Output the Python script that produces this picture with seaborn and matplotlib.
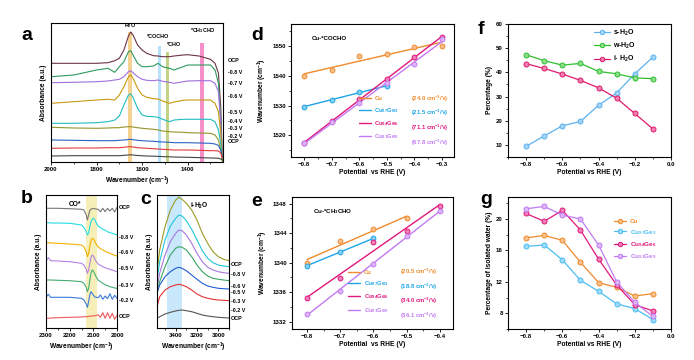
import numpy as np
import matplotlib
matplotlib.use('Agg')
import matplotlib.pyplot as plt
import matplotlib.colors as mcolors
from matplotlib.ticker import MultipleLocator, AutoMinorLocator
from matplotlib.lines import Line2D
import seaborn as sns

sns.set_theme(style='ticks')
plt.rcParams['font.family'] = ['Liberation Sans', 'DejaVu Sans']
plt.rcParams.update({
    'font.weight': 'bold', 'axes.labelweight': 'bold', 'mathtext.default': 'regular',
    'axes.linewidth': 0.8, 'axes.edgecolor': 'black', 'xtick.color': 'black',
    'ytick.color': 'black', 'axes.labelcolor': 'black', 'text.color': 'black',
})

# ---------------- panel a : operando spectra 2000-1250 cm-1 ----------------
W_A = [2000, 1900, 1800, 1750, 1720, 1700, 1680, 1660, 1650, 1640, 1620, 1600, 1580,
       1550, 1530, 1510, 1480, 1460, 1420, 1400, 1350, 1300, 1280, 1265, 1255, 1248]
A_OCP2 = [98.7, 98.7, 98.7, 99.3, 101.3, 103.7, 112, 126, 130, 127, 117, 112, 108.7,
          106.3, 106, 105.3, 105.3, 106, 107, 107.3, 106, 102.7, 98.7, 88.7, 55.3, 2]
A_m08 = [85.3, 87, 92, 93.7, 89.7, 95.3, 100.3, 110.3, 111.3, 107, 98.7, 95.3, 95.3,
         96, 98.7, 95.3, 93.7, 92, 95.3, 97, 97, 97, 92, 78.7, 42, 2]
A_m07 = [79.3, 79.7, 80.3, 81, 82, 82.7, 85.3, 90.3, 91.3, 89.3, 85.3, 82.7, 81.7,
         81.3, 82, 80.7, 79.7, 78.7, 80.3, 81, 81.3, 81.3, 78.7, 70.3, 38.7, 2]
A_m06 = [58.7, 60.3, 62, 62.7, 62, 67, 75.3, 85.3, 87, 83.7, 73.7, 67, 64.7,
         63.3, 63, 61, 58.7, 60, 61.7, 62, 62, 62, 58.7, 50.3, 28.7, 2]
A_m05 = [38.7, 38.7, 39.3, 40.3, 42, 46, 57, 67, 68, 64.7, 53.7, 47, 45.7,
         45.3, 44.7, 42.7, 40.3, 42, 42.7, 42.7, 42.7, 42.7, 40.3, 32, 18.7, 2]
A_m04 = [34.7, 34, 33.7, 34, 34.3, 34.3, 35, 35.3, 35.3, 35, 34.3, 33.7, 33.3,
         32.7, 32, 31, 30.3, 30, 29.7, 29.3, 29, 28.7, 27, 22, 12, 0.3]
A_m03 = [22, 21.7, 21.3, 21.3, 21.3, 21.7, 22, 22.5, 22.7, 22.3, 21.7, 21.3, 21,
         20.7, 20.3, 20, 19.7, 19.3, 19.3, 19.3, 19, 18.7, 18, 16.5, 12, 5]
A_m02 = [13.7, 14, 14, 14.3, 14.3, 14.3, 14.7, 15.3, 15.3, 15, 14.3, 14, 13.7,
         13.3, 13, 12.7, 12.3, 12, 12, 12, 11.7, 11.3, 11.3, 11, 9, 4]
A_OCP1 = [6, 6.3, 6.3, 6.3, 6.3, 6.3, 6.7, 7, 7.2, 7, 6.5, 6.2, 6,
          5.8, 5.6, 5.4, 5.2, 5, 4.8, 4.7, 4.4, 4, 3.9, 3.7, 3, 2]
A_LABELS = ['OCP', '-0.8 V', '-0.7 V', '-0.6 V', '-0.5 V', '-0.4 V', '-0.3 V', '-0.2 V', 'OCP']
A_COLORS = ['#6a3346', '#2e9a5e', '#a070de', '#c9980c', '#1fbcbf', '#95942a',
            '#2a62c4', '#e23b3b', '#454545']
A_LABEL_Y = [101, 89.7, 78.7, 66, 49.3, 40.3, 33, 25.3, 20.3]

# ---------------- panel b : CO* region ----------------
W_B = [2300, 2290, 2280, 2250, 2200, 2150, 2140, 2130, 2125, 2120, 2115, 2110, 2105,
       2100, 2095, 2090, 2080, 2070, 2060, 2050, 2040, 2030, 2020, 2010, 2000]
B_OCP2 = [119.7, 119.7, 119.7, 119.7, 119.3, 118.7, 118, 113, 108, 113, 117.3, 118.7, 119.3,
          119.7, 119.3, 119, 118.7, 116.3, 119.7, 116.3, 119.7, 117, 119.7, 116, 120.7]
B_m08 = [105.3, 105.3, 105, 105, 104.7, 103, 100.7, 96.3, 93, 95.3, 101.3, 106.3, 108.7,
         109.7, 108.7, 106.3, 102, 100.3, 98.7, 97.7, 96.3, 95.3, 94.7, 94, 93]
B_m06 = [85.3, 85.3, 85, 84.7, 84, 83, 81.3, 76.3, 71.3, 74.7, 81.3, 87.3, 89.7,
         89, 87.3, 84.7, 81.3, 79.3, 78, 76.7, 75.7, 74.7, 73.7, 72.7, 72]
B_m05 = [67.3, 70.3, 67.3, 67, 66.3, 64.7, 63, 58.7, 54.7, 58, 64, 70.7, 73,
         72, 69.7, 67.3, 64, 62.7, 61.3, 60.3, 59.3, 58.7, 58, 57, 56.3]
B_m03 = [48, 48, 48, 47.7, 47.3, 46.3, 44.7, 40.7, 36.3, 39.7, 47.3, 54.7, 58,
         57, 54.7, 52, 48, 46.3, 44.7, 43.3, 42.3, 41.3, 40.7, 40, 39.7]
B_m02 = [30.7, 33.7, 30.7, 30.7, 30.7, 29.7, 28, 24, 20.7, 26.3, 33, 36.3, 34.7,
         33, 31.3, 30.7, 30.3, 33, 28.7, 32, 29.3, 34.3, 28.7, 32.7, 29.7]
B_OCP1 = [9.7, 9.7, 10, 10.3, 10.7, 11, 11.3, 11.3, 11.3, 11.7, 11.7, 12, 12,
          12, 12.3, 12.3, 13.3, 10.7, 15.3, 9.7, 15.3, 9.7, 14.7, 8.7, 12.7]
B_LABELS = ['OCP', '-0.8 V', '-0.6 V', '-0.5 V', '-0.3 V', '-0.2 V', 'OCP']
B_COLORS = ['#777777', '#22dde6', '#f2b200', '#b383e2', '#45ad72', '#3b79da', '#ef5a5a']
B_LABEL_Y = [120.3, 90.3, 75, 59, 42.3, 27, 11]

# ---------------- panel c : i-H2O region ----------------
W_C = [3575, 3550, 3500, 3450, 3400, 3370, 3340, 3300, 3250, 3200, 3150, 3100, 3050, 3000, 2950, 2900]
C_OCP2 = [56.3, 78, 101.3, 118, 128, 130.7, 128.7, 124.7, 118, 108, 94.7, 84.7, 76.3, 71.3, 68.7, 67.3]
C_m08 = [48, 66.3, 88, 102, 109.7, 113, 112, 107.3, 98.7, 88, 77.3, 69.7, 65.3, 63, 62, 61.3]
C_m06 = [39.7, 54.7, 73, 86.3, 94.7, 98, 97.3, 93, 84.7, 74.7, 66.3, 60.7, 58, 56.3, 55.3, 54.7]
C_m05 = [36.3, 46.3, 61.3, 73, 79.7, 81.3, 80.7, 78, 71.3, 63, 56.3, 52, 49.7, 48.7, 48, 47.3]
C_m03 = [34.7, 43, 51.3, 56.3, 59.7, 60.7, 59.7, 57.3, 53, 48.7, 44.7, 42, 40.7, 39.7, 39.3, 39]
C_m02 = [21.3, 31.3, 38, 41.3, 43, 43.7, 43, 41.3, 38, 34, 31.3, 29.7, 28.7, 28, 27.7, 27.3]
C_OCP1 = [9.7, 11.3, 14, 15.7, 17, 17.7, 18, 17.3, 16.3, 14.7, 13, 12, 11.3, 10.7, 10.3, 10]
C_LABELS = ['OCP', '-0.8 V', '-0.6 V', '-0.5 V', '-0.3 V', '-0.2 V', 'OCP']
C_COLORS = ['#9c9a22', '#22c6d8', '#a777e2', '#3aa663', '#1f5ed2', '#e63232', '#555555']
C_LABEL_Y = [64, 53, 42, 35, 26.3, 17.3, 9]

# ---------------- panels d, e : Stark tuning ----------------
SAMPLES = ['Cu', 'Cu$_{97}$Ge$_3$', 'Cu$_{94}$Ge$_6$', 'Cu$_{91}$Ge$_9$']
S_COLORS = ['#f08a2c', '#1fa5e6', '#e0177c', '#c17af2']

D_POT = {'Cu': [-0.8, -0.7, -0.6, -0.5, -0.4, -0.3],
         'Cu97': [-0.8, -0.7, -0.6, -0.5],
         'Cu94': [-0.8, -0.7, -0.6, -0.5, -0.4, -0.3],
         'Cu91': [-0.8, -0.7, -0.6, -0.5, -0.4, -0.3]}
D_WN = {'Cu': [1540.0, 1541.9, 1546.8, 1547.4, 1549.7, 1550.1],
        'Cu97': [1529.6, 1532.0, 1534.4, 1536.6],
        'Cu94': [1517.5, 1524.7, 1532.1, 1538.9, 1546.2, 1553.1],
        'Cu91': [1517.3, 1524.3, 1530.7, 1537.7, 1543.8, 1552.2]}
D_SLOPES = ['(24.0 cm$^{-1}$/V)', '(21.5 cm$^{-1}$/V)', '(71.1 cm$^{-1}$/V)', '(67.8 cm$^{-1}$/V)']

E_POT = {'Cu': [-0.8, -0.7, -0.6, -0.5],
         'Cu97': [-0.8, -0.7, -0.6],
         'Cu94': [-0.8, -0.7, -0.6, -0.5, -0.4],
         'Cu91': [-0.8, -0.7, -0.6, -0.5, -0.4]}
E_WN = {'Cu': [1340.0, 1342.9, 1344.5, 1346.0],
        'Cu97': [1339.6, 1341.4, 1343.3],
        'Cu94': [1335.2, 1337.9, 1342.8, 1344.3, 1347.7],
        'Cu91': [1333.1, 1336.1, 1339.8, 1343.6, 1347.0]}
E_SLOPES = ['(20.5 cm$^{-1}$/V)', '(18.8 cm$^{-1}$/V)', '(34.0 cm$^{-1}$/V)', '(36.1 cm$^{-1}$/V)']
KEYS = ['Cu', 'Cu97', 'Cu94', 'Cu91']

# ---------------- panels f, g ----------------
POT_FG = [-0.8, -0.7, -0.6, -0.5, -0.4, -0.3, -0.2, -0.1]
F_S = [9.4, 13.7, 17.9, 19.7, 26.4, 31.5, 39.4, 46.3]
F_W = [47.3, 44.8, 43.0, 43.7, 40.4, 39.4, 37.7, 37.4]
F_I = [43.6, 41.6, 39.3, 36.7, 33.6, 29.3, 23.0, 16.6]
F_NAMES = ['$s$-H$_2$O', '$w$-H$_2$O', '$i$- H$_2$O']
F_COLORS = ['#5cb2ef', '#2fc02f', '#e0186e']

G_VALS = {'Cu': [17.6, 17.9, 17.3, 14.5, 11.9, 11.3, 10.2, 10.5],
          'Cu97': [16.5, 16.7, 14.8, 12.2, 10.8, 9.2, 8.6, 7.2],
          'Cu94': [20.7, 19.7, 21.1, 18.6, 14.9, 11.6, 9.1, 8.3],
          'Cu91': [21.3, 21.6, 20.5, 20.0, 16.7, 12.0, 9.4, 7.6]}
G_COLORS = ['#f08a2c', '#4cbdf2', '#e0177c', '#c17af2']

FW, FH = 694, 360
fig = plt.figure(figsize=(FW / 100, FH / 100), dpi=100)


def add_ax(x0, y0, x1, y1):
    return fig.add_axes([x0 / FW, 1 - y1 / FH, (x1 - x0) / FW, (y1 - y0) / FH])


def light(c, f=0.45):
    r = np.array(mcolors.to_rgb(c))
    return tuple(r + (1 - r) * f)


def style(ax):
    ax.tick_params(which='major', direction='out', length=2.2, width=0.6,
                   labelsize=4.4, pad=1.5, top=False, right=False)
    ax.tick_params(which='minor', direction='out', length=1.2, width=0.5)
    for lab in ax.get_xticklabels() + ax.get_yticklabels():
        lab.set_fontweight('bold')
    for s in ax.spines.values():
        s.set_linewidth(0.8)


def spectra(ax, w, curves, colors, labels, label_y, xlim, ylim):
    for vals, c in zip(curves, colors):
        sns.lineplot(x=w, y=vals, ax=ax, color=c, lw=0.8, sort=False, errorbar=None)
    ax.set_xlim(*xlim)
    ax.set_ylim(*ylim)
    ax.set_yticks([])
    tr = ax.get_yaxis_transform()
    for lab, yy in zip(labels, label_y):
        ax.text(1.03, yy, lab, transform=tr, fontsize=3.9, fontweight='bold',
                va='center', ha='left', clip_on=False)


def fmt_xlab(ax, text, pad=1.5):
    ax.set_xlabel(text, fontsize=4.8, fontweight='bold', labelpad=pad)


def fmt_ylab(ax, text, pad=2):
    ax.set_ylabel(text, fontsize=4.8, fontweight='bold', labelpad=pad)


# ---- a ----
ax = add_ax(51, 23, 223, 162)
ax.axvspan(1643, 1662, ymax=0.937, color='#f2c46d', alpha=0.75, lw=0)
ax.axvspan(1516, 1531, ymax=0.835, color='#a9dcf7', alpha=0.85, lw=0)
ax.axvspan(1484, 1497, ymax=0.79, color='#b8cc70', alpha=0.85, lw=0)
ax.axvspan(1330, 1348, ymax=0.856, color='#f47cc0', alpha=0.85, lw=0)
spectra(ax, W_A, [A_OCP2, A_m08, A_m07, A_m06, A_m05, A_m04, A_m03, A_m02, A_OCP1],
        A_COLORS, A_LABELS, A_LABEL_Y, (2000, 1245), (0, 139))
ax.xaxis.set_major_locator(MultipleLocator(200))
ax.xaxis.set_minor_locator(MultipleLocator(100))
for txt, xx, yy in [('H$_2$O', 1652, 132), ('*COCHO', 1532, 122.5),
                    ('*CHO', 1462, 114.5), ('*CH$_3$CHO', 1335, 127.5)]:
    ax.text(xx, yy, txt, fontsize=3.9, fontweight='bold', ha='center', va='bottom')
fmt_xlab(ax, 'Wavenumber (cm$^{-1}$)')
fmt_ylab(ax, 'Absorbance (a.u.)', 3)
style(ax)

# ---- b ----
ax = add_ax(46, 195, 117, 328)
ax.axvspan(2086, 2131, color='#f6eeb2', alpha=0.9, lw=0)
spectra(ax, W_B, [B_OCP2, B_m08, B_m06, B_m05, B_m03, B_m02, B_OCP1],
        B_COLORS, B_LABELS, B_LABEL_Y, (2300, 2000), (0, 133))
ax.xaxis.set_major_locator(MultipleLocator(100))
ax.xaxis.set_minor_locator(MultipleLocator(50))
ax.text(0.41, 0.955, 'CO*', transform=ax.transAxes, fontsize=4.8, fontweight='bold',
        ha='center', va='top')
fmt_xlab(ax, 'Wavenumber (cm$^{-1}$)')
fmt_ylab(ax, 'Absorbance (a.u.)', 3)
style(ax)

# ---- c ----
ax = add_ax(157, 195, 229, 328)
ax.axvspan(3343, 3485, color='#c8e7fb', alpha=0.95, lw=0)
spectra(ax, W_C, [C_OCP2, C_m08, C_m06, C_m05, C_m03, C_m02, C_OCP1],
        C_COLORS, C_LABELS, C_LABEL_Y, (3575, 2900), (0, 133))
ax.xaxis.set_major_locator(MultipleLocator(200))
ax.xaxis.set_minor_locator(MultipleLocator(100))
ax.text(0.58, 0.955, '$i$-H$_2$O', transform=ax.transAxes, fontsize=4.8,
        fontweight='bold', ha='center', va='top')
fmt_xlab(ax, 'Wavenumber (cm$^{-1}$)')
fmt_ylab(ax, 'Absorbance (a.u.)', 3)
style(ax)


def stark(ax, pots, wns, slopes, title, anchor):
    for k, name, c in zip(KEYS, SAMPLES, S_COLORS):
        x, y = pots[k], wns[k]
        sns.regplot(x=x, y=y, ax=ax, scatter=False, ci=None, truncate=True,
                    color=c, line_kws=dict(lw=1.0))
        sns.scatterplot(x=x, y=y, ax=ax, color=light(c), edgecolor=c, s=12,
                        linewidth=0.7, zorder=3)
    handles = [Line2D([], [], color=c, lw=1.0) for c in S_COLORS]
    blanks = [Line2D([], [], color='none', lw=0) for _ in S_COLORS]
    leg = ax.legend(handles + blanks, SAMPLES + slopes, ncol=2, frameon=False,
                    loc='lower right', bbox_to_anchor=anchor, fontsize=4.2,
                    handlelength=2.0, handletextpad=0.6, labelspacing=0.75,
                    columnspacing=-0.6, borderpad=0.2)
    for t, c in zip(leg.get_texts(), S_COLORS * 2):
        t.set_color(c)
        t.set_fontweight('bold')
    ax.text(0.13, 0.89, title, transform=ax.transAxes, fontsize=4.4,
            fontweight='bold', ha='left', va='center')
    ax.xaxis.set_minor_locator(AutoMinorLocator(2))
    ax.yaxis.set_minor_locator(AutoMinorLocator(2))
    fmt_xlab(ax, 'Potential  vs RHE (V)')
    fmt_ylab(ax, 'Wavenumber (cm$^{-1}$)', 2.5)
    style(ax)


# ---- d ----
ax = add_ax(291, 24, 454, 157)
stark(ax, D_POT, D_WN, D_SLOPES, 'Cu-*COCHO', (0.99, 0.04))
ax.set_xlim(-0.848, -0.256)
ax.set_ylim(1512.7, 1557.4)
ax.set_xticks([-0.8, -0.7, -0.6, -0.5, -0.4, -0.3])
ax.set_yticks([1520, 1530, 1540, 1550])
style(ax)

# ---- e ----
ax = add_ax(292, 197, 453, 329)
stark(ax, E_POT, E_WN, E_SLOPES, 'Cu-*CH$_3$CHO', (0.93, 0.03))
ax.set_xlim(-0.845, -0.36)
ax.set_ylim(1331.0, 1348.9)
ax.set_xticks([-0.8, -0.7, -0.6, -0.5, -0.4])
ax.set_yticks([1332, 1336, 1340, 1344, 1348])
style(ax)


def marker_lines(ax, series, names, colors, anchor):
    for vals, c in zip(series, colors):
        sns.lineplot(x=POT_FG, y=vals, ax=ax, color=c, lw=0.9, marker='o',
                     markersize=3.6, markerfacecolor=light(c), markeredgecolor=c,
                     markeredgewidth=0.7, sort=False, errorbar=None)
    handles = [Line2D([], [], color=c, lw=0.9, marker='o', ms=3.2,
                      mfc=light(c), mec=c, mew=0.7) for c in colors]
    return handles


# ---- f ----
ax = add_ax(508, 24, 671, 157)
h = marker_lines(ax, [F_S, F_W, F_I], F_NAMES, F_COLORS, None)
ax.legend(h, F_NAMES, frameon=False, loc='upper left', bbox_to_anchor=(0.5, 1.01),
          fontsize=5.0, handlelength=2.2, handletextpad=0.5, labelspacing=0.45,
          borderpad=0.2)
ax.set_xlim(-0.9, 0.0)
ax.set_ylim(5, 60)
ax.set_xticks([-0.8, -0.6, -0.4, -0.2, 0.0])
ax.set_yticks([10, 20, 30, 40, 50, 60])
ax.xaxis.set_minor_locator(AutoMinorLocator(2))
ax.yaxis.set_minor_locator(AutoMinorLocator(2))
fmt_xlab(ax, 'Potential vs RHE (V)')
fmt_ylab(ax, 'Percentage (%)', 2.5)
style(ax)

# ---- g ----
ax = add_ax(508, 197, 671, 329)
h = marker_lines(ax, [G_VALS[k] for k in KEYS], SAMPLES, G_COLORS, None)
leg = ax.legend(h, SAMPLES, frameon=False, loc='upper left', bbox_to_anchor=(0.62, 0.87),
                fontsize=4.6, handlelength=2.0, handletextpad=0.5, labelspacing=0.55,
                borderpad=0.2)
for t, c in zip(leg.get_texts(), G_COLORS):
    t.set_color(c)
ax.set_xlim(-0.9, 0.0)
ax.set_ylim(6.0, 22.8)
ax.set_xticks([-0.8, -0.6, -0.4, -0.2, 0.0])
ax.set_yticks([8, 12, 16, 20])
ax.xaxis.set_minor_locator(AutoMinorLocator(2))
ax.yaxis.set_minor_locator(AutoMinorLocator(2))
fmt_xlab(ax, 'Potential vs RHE (V)')
fmt_ylab(ax, 'Percentage of isolated water (%)', 2.5)
style(ax)

# panel letters
for letter, px, py in [('a', 27, 35), ('b', 27, 198), ('c', 146, 199), ('d', 257, 35),
                       ('e', 257, 201), ('f', 481, 30), ('g', 486, 199)]:
    fig.text(px / FW, 1 - py / FH, letter, fontsize=14, fontweight='bold',
             ha='center', va='center')

fig.savefig('out.png', dpi=100)
